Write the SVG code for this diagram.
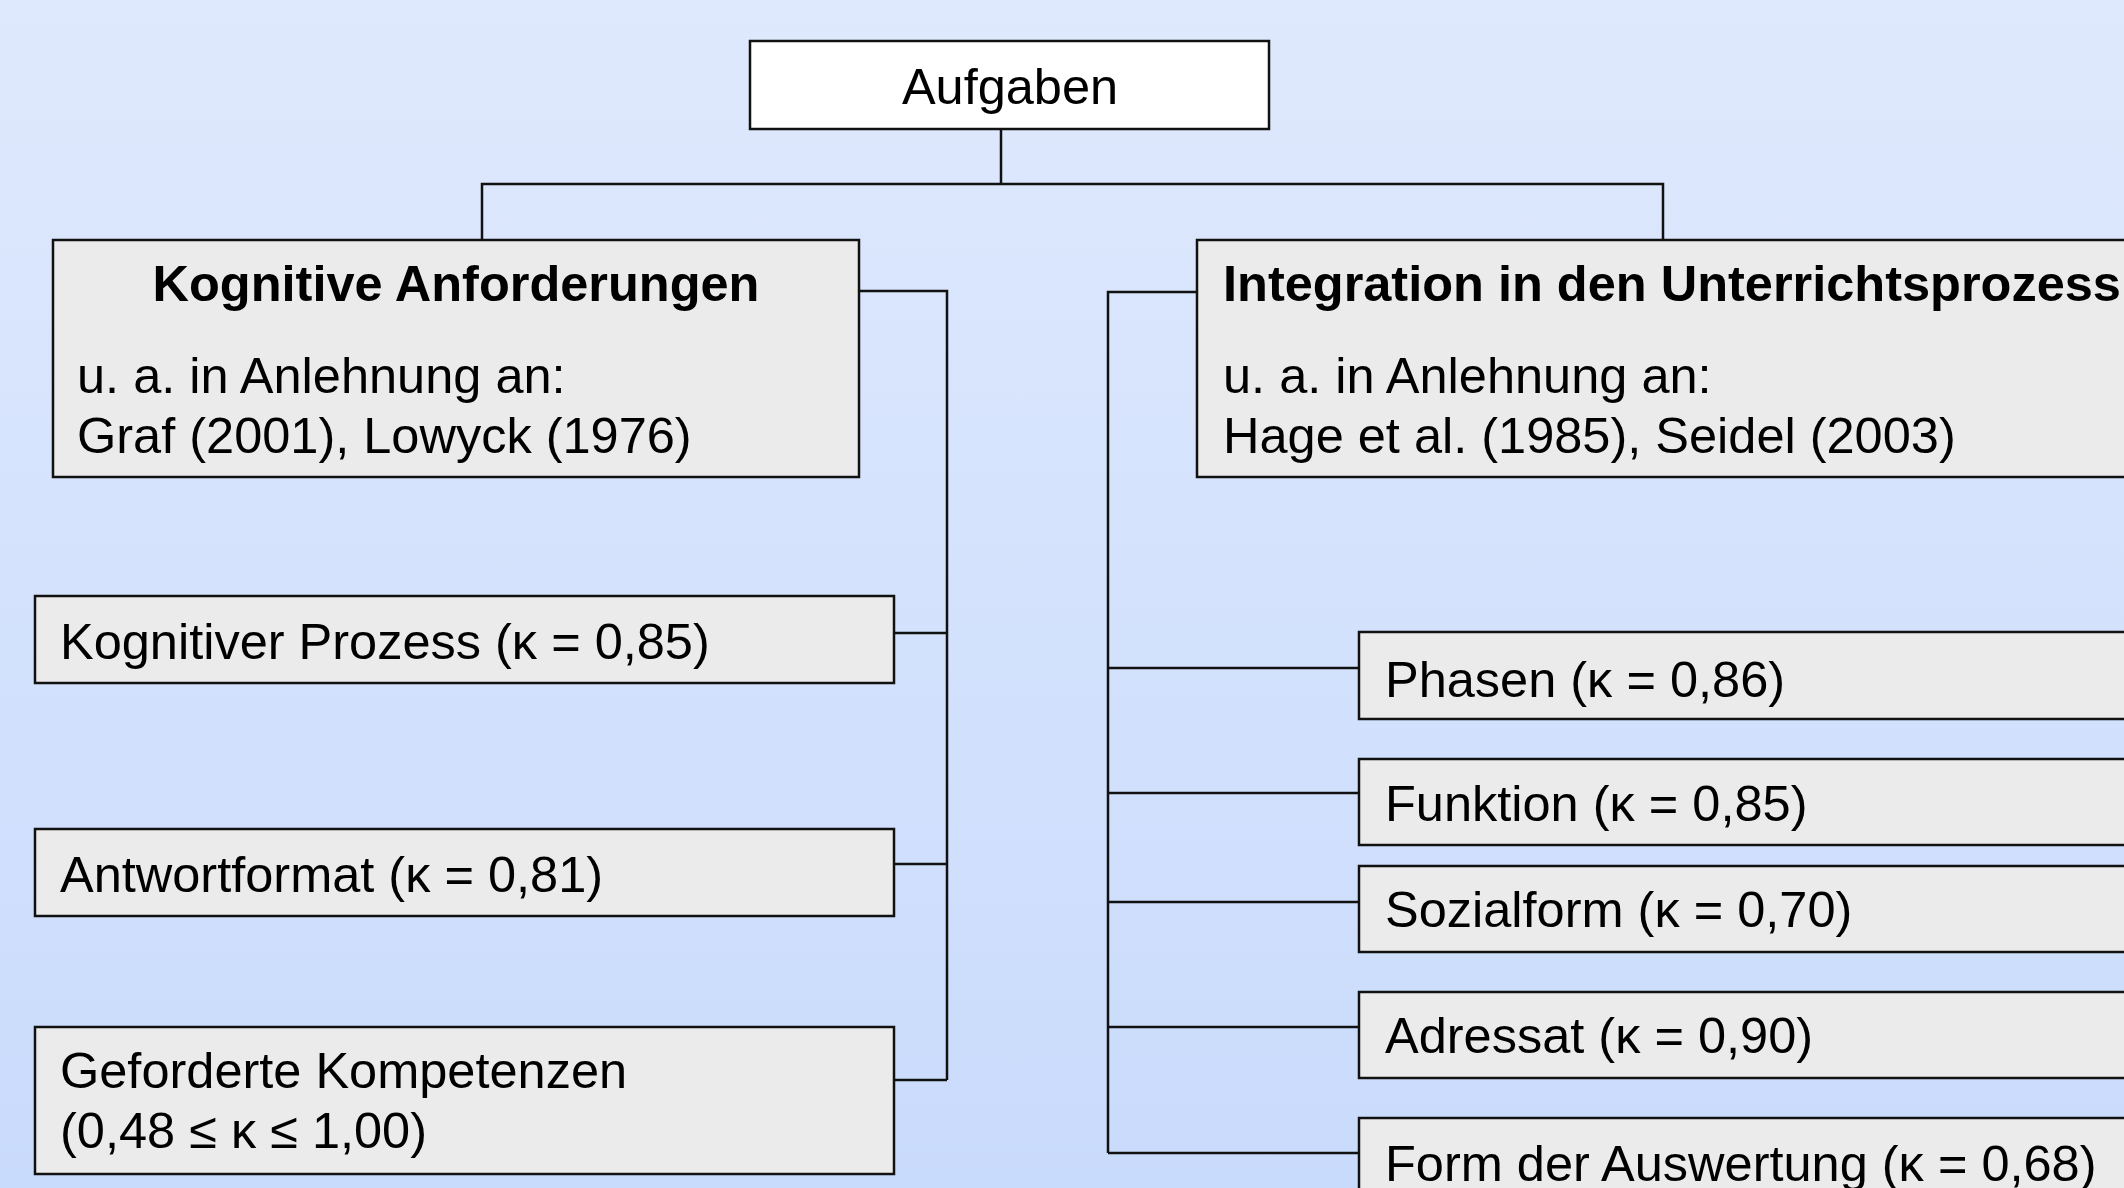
<svg xmlns="http://www.w3.org/2000/svg" width="2124" height="1188" viewBox="0 0 2124 1188">
<defs>
<linearGradient id="bg" x1="0" y1="0" x2="0" y2="1">
<stop offset="0" stop-color="#dfe9fd"/>
<stop offset="1" stop-color="#c9dbfc"/>
</linearGradient>
</defs>
<style>
.box{fill:#ebebeb;stroke:#111;stroke-width:2.5}
.root{fill:#ffffff;stroke:#111;stroke-width:2.5}
.t{font-family:"Liberation Sans",Arial,sans-serif;font-size:50.5px;fill:#000}
.b{font-weight:bold}
.c{fill:none;stroke:#111;stroke-width:2.5}
</style>
<rect x="0" y="0" width="2124" height="1188" fill="url(#bg)"/>
<g id="connectors">
<path class="c" d="M1001 129V184M482 240V184H1663V240"/>
<path class="c" d="M859 291H947V1080M894 633H947M894 864H947M894 1080H947"/>
<path class="c" d="M1197 292H1108V1153M1108 668H1359M1108 793H1359M1108 902H1359M1108 1027H1359M1108 1153H1359"/>
</g>
<g id="aufgaben">
<rect class="root" x="750" y="41" width="519" height="88"/>
<text class="t" x="1010" y="104" text-anchor="middle">Aufgaben</text>
</g>
<g id="kognitive-anforderungen">
<rect class="box" x="53" y="240" width="806" height="237"/>
<text class="t b" x="456" y="301" text-anchor="middle">Kognitive Anforderungen</text>
<text class="t" x="77" y="393">u. a. in Anlehnung an:</text>
<text class="t" x="77" y="453">Graf (2001), Lowyck (1976)</text>
</g>
<g id="integration">
<rect class="box" x="1197" y="240" width="960" height="237"/>
<text class="t b" x="1223" y="301">Integration in den Unterrichtsprozess</text>
<text class="t" x="1223" y="393">u. a. in Anlehnung an:</text>
<text class="t" x="1223" y="453">Hage et al. (1985), Seidel (2003)</text>
</g>
<g id="kognitiver-prozess">
<rect class="box" x="35" y="596" width="859" height="87"/>
<text class="t" x="60" y="659">Kognitiver Prozess (κ = 0,85)</text>
</g>
<g id="antwortformat">
<rect class="box" x="35" y="829" width="859" height="87"/>
<text class="t" x="60" y="892">Antwortformat (κ = 0,81)</text>
</g>
<g id="geforderte-kompetenzen">
<rect class="box" x="35" y="1027" width="859" height="147"/>
<text class="t" x="60" y="1088">Geforderte Kompetenzen</text>
<text class="t" x="60" y="1148">(0,48 ≤ κ ≤ 1,00)</text>
</g>
<g id="phasen">
<rect class="box" x="1359" y="632" width="800" height="87"/>
<text class="t" x="1385" y="697">Phasen (κ = 0,86)</text>
</g>
<g id="funktion">
<rect class="box" x="1359" y="759" width="800" height="86"/>
<text class="t" x="1385" y="821">Funktion (κ = 0,85)</text>
</g>
<g id="sozialform">
<rect class="box" x="1359" y="866" width="800" height="86"/>
<text class="t" x="1385" y="927">Sozialform (κ = 0,70)</text>
</g>
<g id="adressat">
<rect class="box" x="1359" y="992" width="800" height="86"/>
<text class="t" x="1385" y="1053">Adressat (κ = 0,90)</text>
</g>
<g id="form-der-auswertung">
<rect class="box" x="1359" y="1118" width="800" height="120"/>
<text class="t" x="1385" y="1181">Form der Auswertung (κ = 0,68)</text>
</g>
</svg>
